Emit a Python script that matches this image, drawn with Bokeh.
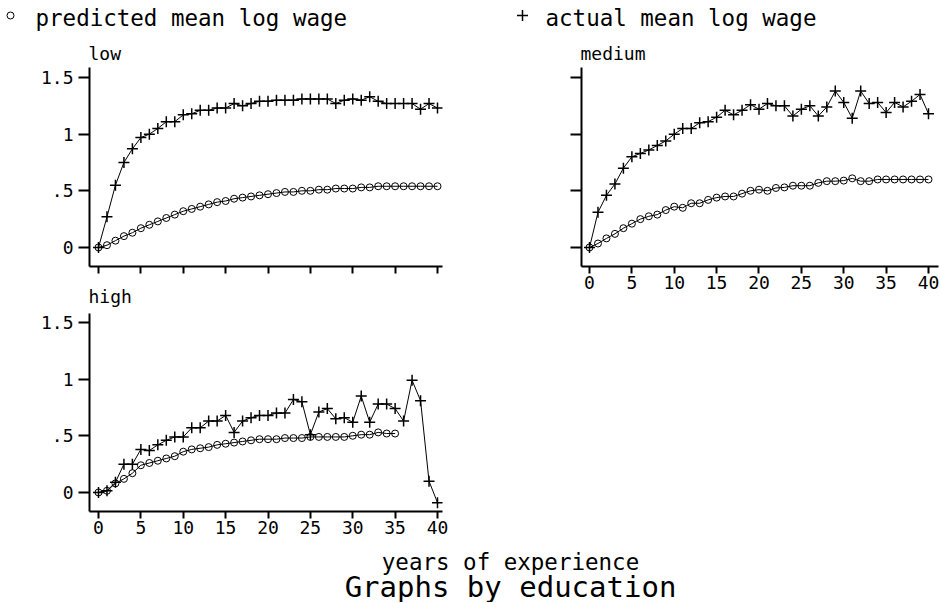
from bokeh.plotting import figure
from bokeh.models import Range1d, FixedTicker
from bokeh.layouts import column, row
from bokeh.embed import file_html
from bokeh.resources import INLINE
from bokeh.core.properties import value

# ---------------- data ----------------
years = list(range(41))
years_high_pred = list(range(36))

low_pred = [0.00, 0.02, 0.06, 0.10, 0.13, 0.17, 0.20, 0.23, 0.26, 0.29,
            0.32, 0.34, 0.36, 0.38, 0.40, 0.41, 0.43, 0.44, 0.45, 0.46,
            0.47, 0.48, 0.49, 0.49, 0.50, 0.50, 0.51, 0.51, 0.52, 0.52,
            0.52, 0.53, 0.53, 0.54, 0.54, 0.54, 0.54, 0.54, 0.54, 0.54, 0.54]
low_actual = [0.00, 0.27, 0.55, 0.75, 0.87, 0.97, 1.00, 1.05, 1.11, 1.11,
              1.17, 1.18, 1.21, 1.21, 1.23, 1.23, 1.27, 1.25, 1.27, 1.29,
              1.29, 1.30, 1.30, 1.30, 1.31, 1.31, 1.31, 1.31, 1.27, 1.30,
              1.31, 1.30, 1.33, 1.29, 1.27, 1.27, 1.27, 1.27, 1.22, 1.27, 1.23]

med_pred = [0.00, 0.035, 0.08, 0.12, 0.17, 0.21, 0.25, 0.275, 0.29, 0.33,
            0.36, 0.35, 0.39, 0.39, 0.42, 0.44, 0.45, 0.45, 0.475, 0.50,
            0.51, 0.50, 0.525, 0.53, 0.545, 0.545, 0.545, 0.57, 0.585, 0.585,
            0.59, 0.61, 0.585, 0.585, 0.60, 0.60, 0.60, 0.60, 0.60, 0.60, 0.60]
med_actual = [0.00, 0.31, 0.46, 0.56, 0.70, 0.80, 0.83, 0.86, 0.90, 0.94,
              1.00, 1.05, 1.05, 1.10, 1.11, 1.15, 1.21, 1.17, 1.21, 1.26,
              1.22, 1.27, 1.25, 1.25, 1.16, 1.22, 1.25, 1.16, 1.24, 1.38,
              1.28, 1.14, 1.38, 1.27, 1.28, 1.19, 1.28, 1.24, 1.29, 1.35, 1.18]

high_pred = [0.00, 0.015, 0.08, 0.12, 0.17, 0.24, 0.26, 0.28, 0.30, 0.32,
             0.36, 0.38, 0.39, 0.40, 0.42, 0.43, 0.44, 0.45, 0.46, 0.47,
             0.47, 0.47, 0.48, 0.48, 0.48, 0.49, 0.49, 0.49, 0.49, 0.49,
             0.50, 0.51, 0.51, 0.53, 0.52, 0.52]
high_actual = [0.00, 0.015, 0.09, 0.25, 0.25, 0.38, 0.37, 0.42, 0.46, 0.49,
               0.49, 0.57, 0.57, 0.63, 0.63, 0.68, 0.53, 0.63, 0.66, 0.68,
               0.68, 0.70, 0.70, 0.82, 0.80, 0.51, 0.71, 0.74, 0.65, 0.66,
               0.62, 0.85, 0.62, 0.78, 0.78, 0.74, 0.63, 0.99, 0.81, 0.10, -0.09]

x_ticks = [0, 5, 10, 15, 20, 25, 30, 35, 40]
y_ticks = [0, 0.5, 1, 1.5]
y_tick_labels = ["0", ".5", "1", "1.5"]

legend_pred = "predicted mean log wage"
legend_act = "actual mean log wage"
x_title = "years of experience"
note = "Graphs by education"

FONT = "DejaVu Sans Mono"


def make_panel(title, width, height, left, right, top, bottom, xr, yr,
               show_x, show_y, standoff):
    p = figure(width=width, height=height, title=title,
               x_range=Range1d(*xr), y_range=Range1d(*yr),
               output_backend="svg", toolbar_location=None,
               min_border_left=left, min_border_right=right,
               min_border_top=top, min_border_bottom=bottom)
    p.outline_line_color = None
    p.grid.visible = False
    p.background_fill_color = "white"
    p.border_fill_color = "white"
    p.title.text_font = FONT
    p.title.text_font_size = "18px"
    p.title.text_font_style = "normal"
    p.title.text_color = "black"
    p.title.align = "left"
    p.title.offset = -1
    p.title.standoff = standoff

    for ax in (p.xaxis, p.yaxis):
        ax.axis_line_width = 2
        ax.axis_line_color = "black"
        ax.major_tick_line_width = 2
        ax.major_tick_line_color = "black"
        ax.major_tick_in = 0
        ax.minor_tick_in = 0
        ax.minor_tick_out = 0
        ax.major_label_text_font = FONT
        ax.major_label_text_font_size = "18px"
        ax.major_label_text_color = "black"
    p.xaxis.ticker = FixedTicker(ticks=x_ticks)
    p.yaxis.ticker = FixedTicker(ticks=y_ticks)
    p.xaxis.major_tick_out = 7
    p.yaxis.major_tick_out = 11
    p.xaxis.major_label_standoff = 2
    p.yaxis.major_label_standoff = 5
    if show_y:
        p.yaxis.major_label_overrides = dict(zip(y_ticks, y_tick_labels))
    else:
        p.yaxis.major_label_overrides = {t: "" for t in y_ticks}
    if not show_x:
        p.xaxis.major_label_overrides = {t: "" for t in x_ticks}
    return p


def add_series(p, xp, yp, xa, ya):
    p.line(xp, yp, line_color="black", line_width=1)
    p.scatter(xp, yp, marker="circle", size=7, line_color="black",
              fill_color=None, line_width=1)
    p.line(xa, ya, line_color="black", line_width=1)
    p.scatter(xa, ya, marker="cross", size=11, line_color="black",
              line_width=1.5)


XR_L = (-1.062, 40.59)
XR_M = (-0.944, 41.18)
YR = (-0.168, 1.588)
YR_H = (-0.168, 1.579)

low = make_panel("low", 478, 241, 89, 36, 31, 11, XR_L, YR, False, True, 8)
add_series(low, years, low_pred, years, low_actual)

high = make_panel("high", 478, 268, 89, 36, 36, 34, XR_L, YR_H, True, True, 13)
add_series(high, years_high_pred, high_pred, years, high_actual)

med = make_panel("medium", 462, 264, 103, 2, 31, 34, XR_M, YR, True, False, 8)
add_series(med, years, med_pred, years, med_actual)

# legend strip (key symbols + labels), coordinates in page pixels
lg = figure(width=940, height=36, x_axis_type=None, y_axis_type=None,
            x_range=Range1d(0, 940), y_range=Range1d(0, 36), min_border=0,
            output_backend="svg", toolbar_location=None)
lg.outline_line_color = None
lg.scatter(x=[10], y=[21], marker="circle", size=7, line_color="black",
           fill_color=None, line_width=1)
lg.scatter(x=[522], y=[21], marker="cross", size=11, line_color="black",
           line_width=1.5)
lg.text(x=[35, 545], y=[18.5, 18.5], text=[legend_pred, legend_act],
        text_font=value(FONT), text_font_size="22.5px", text_align="left",
        text_baseline="alphabetic", text_color="black")

# bottom titles
bt = figure(width=940, height=57, x_axis_type=None, y_axis_type=None,
            x_range=Range1d(0, 940), y_range=Range1d(0, 57), min_border=0,
            output_backend="svg", toolbar_location=None)
bt.outline_line_color = None
bt.text(x=[510], y=[41], text=[x_title], text_font=value(FONT),
        text_font_size="22.5px", text_align="center",
        text_baseline="alphabetic", text_color="black")
bt.text(x=[510], y=[16], text=[note], text_font=value(FONT),
        text_font_size="29px", text_align="center",
        text_baseline="alphabetic", text_color="black")

layout = column(lg, row(column(low, high), med), bt)

open("out.html", "w").write(file_html(layout, INLINE))
